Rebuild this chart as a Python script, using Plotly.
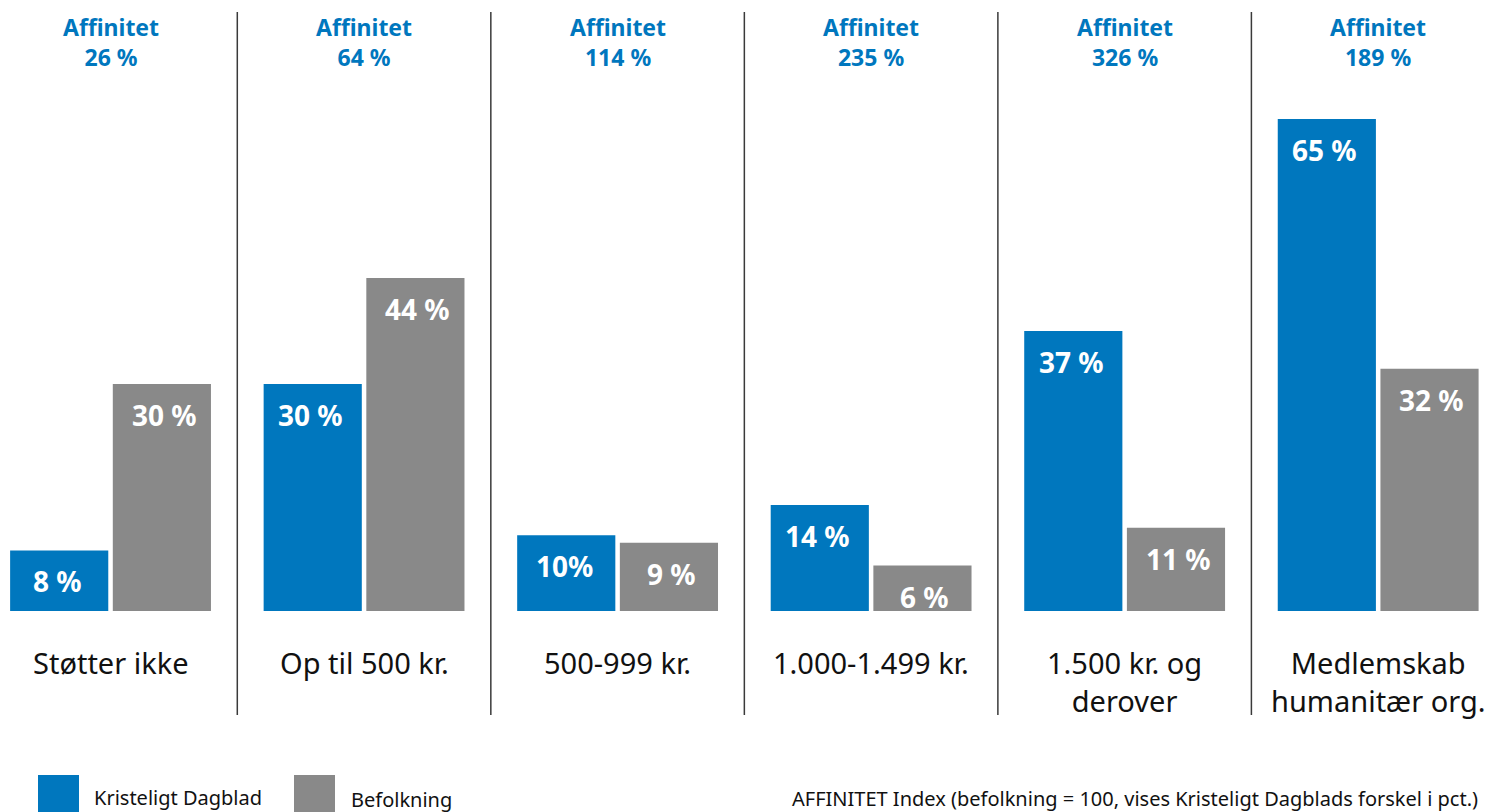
import plotly.graph_objects as go

# Data
categories = ["Støtter ikke", "Op til 500 kr.", "500-999 kr.", "1.000-1.499 kr.",
              "1.500 kr. og<br>derover", "Medlemskab<br>humanitær org."]
kd_values = [8, 30, 10, 14, 37, 65]
pop_values = [30, 44, 9, 6, 11, 32]
kd_labels = ["8 %", "30 %", "10%", "14 %", "37 %", "65 %"]
pop_labels = ["30 %", "44 %", "9 %", "6 %", "11 %", "32 %"]
affinity = ["26 %", "64 %", "114 %", "235 %", "326 %", "189 %"]

BLUE = "#0077BE"
GREY = "#898989"
FONT = "Noto Sans"

fig = go.Figure()
fig.add_trace(go.Bar(x=categories, y=kd_values, name="Kristeligt Dagblad",
                     marker=dict(color=BLUE, line=dict(width=0)), hoverinfo="skip"))
fig.add_trace(go.Bar(x=categories, y=pop_values, name="Befolkning",
                     marker=dict(color=GREY, line=dict(width=0)), hoverinfo="skip"))

annotations = []
for i, cat in enumerate(categories):
    # value labels inside bars, near the top
    annotations.append(dict(x=cat, y=kd_values[i], xref="x", yref="y", xshift=-53.5,
                            yshift=-31, text="<b>%s</b>" % kd_labels[i], showarrow=False,
                            font=dict(family=FONT, size=28, color="white"), yanchor="middle"))
    annotations.append(dict(x=cat, y=pop_values[i], xref="x", yref="y", xshift=53.5,
                            yshift=-31, text="<b>%s</b>" % pop_labels[i], showarrow=False,
                            font=dict(family=FONT, size=28, color="white"), yanchor="middle"))
    # affinity header
    annotations.append(dict(x=cat, y=1.0, xref="x", yref="paper", yshift=-9,
                            text="<b>Affinitet<br>%s</b>" % affinity[i], showarrow=False,
                            font=dict(family=FONT, size=23, color=BLUE), yanchor="top"))
    # category label
    annotations.append(dict(x=cat, y=0, xref="x", yref="y", yshift=-30,
                            text=categories[i], showarrow=False, yanchor="top",
                            font=dict(family=FONT, size=29, color="#111111")))

# custom legend and note
annotations.append(dict(x=92, y=797, xref="paper", yref="paper", text="Kristeligt Dagblad",
                        showarrow=False, xanchor="left", yanchor="middle",
                        font=dict(family=FONT, size=20, color="#111111")))
annotations.append(dict(x=349, y=799, xref="paper", yref="paper", text="Befolkning",
                        showarrow=False, xanchor="left", yanchor="middle",
                        font=dict(family=FONT, size=20, color="#111111")))
annotations.append(dict(x=1480, y=798, xref="paper", yref="paper",
                        text="AFFINITET Index (befolkning = 100, vises Kristeligt Dagblads forskel i pct.)",
                        showarrow=False, xanchor="right", yanchor="middle",
                        font=dict(family=FONT, size=20, color="#111111")))

# convert pixel positions for the legend into paper coords
W, H, BASE = 1510, 812, 611
def px_x(v):
    return v / W
def px_y(v):
    return (BASE - v) / BASE

for a in annotations:
    if a["xref"] == "paper":
        a["x"] = px_x(a["x"])
        a["y"] = px_y(a["y"])

shapes = []
for i in range(len(categories) - 1):
    shapes.append(dict(type="line", xref="x", yref="paper", x0=i + 0.5, x1=i + 0.5,
                       y0=px_y(12), y1=px_y(715), line=dict(color="#3a3a3a", width=1.5)))
for x0, col in [(38, BLUE), (294, GREY)]:
    shapes.append(dict(type="rect", xref="paper", yref="paper", x0=px_x(x0), x1=px_x(x0 + 41),
                       y0=px_y(775), y1=px_y(830), line=dict(width=0), fillcolor=col))

fig.update_layout(
    width=W, height=H,
    margin=dict(l=0, r=0, t=0, b=H - BASE),
    plot_bgcolor="white", paper_bgcolor="white",
    barmode="group", bargap=0.19, bargroupgap=0.044,
    showlegend=False,
    xaxis=dict(range=[-0.436, 5.52], showticklabels=False, showgrid=False,
               zeroline=False, showline=False, fixedrange=True),
    yaxis=dict(range=[0, BASE / 7.57], visible=False, fixedrange=True),
    annotations=annotations, shapes=shapes,
)

fig.write_html("out.html", config={"displayModeBar": False},
               post_script="document.body.style.margin='0';")
